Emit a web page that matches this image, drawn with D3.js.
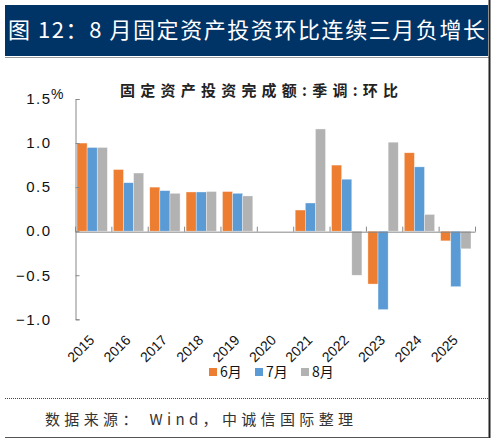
<!DOCTYPE html>
<html>
<head>
<meta charset="utf-8">
<style>
	body { margin: 0; background: #fff; }
	svg { display: block; }
	text { font-family: "Liberation Sans", Arial, "Noto Sans CJK SC", sans-serif; }
	.cjk { font-family: "Noto Sans CJK SC", sans-serif; }
</style>
<script src="https://d3js.org/d3.v7.min.js"></script>
</head>
<body>
<div id="chart"></div>
<script>
	// data
	var years = ["2015","2016","2017","2018","2019","2020","2021","2022","2023","2024","2025"];
	var seriesNames = ["6月","7月","8月"];
	var jun = [1.00, 0.70, 0.50, 0.445, 0.45, null, 0.24, 0.75, -0.60, 0.89, -0.11];
	var jul = [0.95, 0.55, 0.46, 0.445, 0.43, null, 0.32, 0.59, -0.89, 0.73, -0.63];
	var aug = [0.95, 0.66, 0.43, 0.45, 0.40, null, 1.16, -0.50, 1.01, 0.19, -0.20];
	var yTicks = [-1.0, -0.5, 0.0, 0.5, 1.0, 1.5];
	var colors = ["#ED7D31", "#5B9BD5", "#B2B2B2"];

	var W = 496, H = 444;
	var svg = d3.select("#chart").append("svg")
		.attr("width", W)
		.attr("height", H);

	// banner
	svg.append("rect")
		.attr("x", 5).attr("y", 5)
		.attr("width", 483).attr("height", 51)
		.attr("fill", "#003366");
	svg.append("text")
		.attr("class", "cjk")
		.attr("x", 8).attr("y", 38)
		.attr("font-size", 22)
		.attr("fill", "#fff")
		.attr("textLength", 477)
		.attr("lengthAdjust", "spacing")
		.text("图 12：8 月固定资产投资环比连续三月负增长");

	// frame lines
	svg.append("line").attr("x1", 5).attr("x2", 489).attr("y1", 57.5).attr("y2", 57.5)
		.attr("stroke", "#999").attr("stroke-width", 1);
	svg.append("line").attr("x1", 489.5).attr("x2", 489.5).attr("y1", 0).attr("y2", 438)
		.attr("stroke", "#222").attr("stroke-width", 2);
	svg.append("line").attr("x1", 5).attr("x2", 489).attr("y1", 437.5).attr("y2", 437.5)
		.attr("stroke", "#555").attr("stroke-width", 1);
	svg.append("line").attr("x1", 5).attr("x2", 489).attr("y1", 398.5).attr("y2", 398.5)
		.attr("stroke", "#444").attr("stroke-width", 1)
		.attr("stroke-dasharray", "1,1");

	// chart title
	svg.append("text")
		.attr("class", "cjk")
		.attr("x", 259).attr("y", 96)
		.attr("text-anchor", "middle")
		.attr("font-size", 15)
		.attr("font-weight", "bold")
		.attr("fill", "#222")
		.attr("textLength", 278)
		.attr("lengthAdjust", "spacing")
		.text("固定资产投资完成额:季调:环比");

	// scales
	var x0 = d3.scaleBand().domain(years).range([75, 475]).paddingInner(0).paddingOuter(0);
	var x1 = d3.scaleBand().domain(seriesNames).range([2, x0.bandwidth() - 4]).padding(0);
	var y = d3.scaleLinear().domain([-1.0, 1.5]).range([319.3, 99]);

	var series = [jun, jul, aug];

	// bars
	series.forEach(function(vals, s) {
		svg.append("g").selectAll("rect")
			.data(vals.map(function(v, i) { return {year: years[i], v: v}; })
				.filter(function(d) { return d.v !== null; }))
			.enter()
			.append("rect")
			.attr("x", function(d) { return x0(d.year) + x1(seriesNames[s]); })
			.attr("y", function(d) { return y(Math.max(0, d.v)); })
			.attr("width", x1.bandwidth())
			.attr("height", function(d) { return Math.abs(y(d.v) - y(0)); })
			.attr("fill", colors[s])
			.attr("stroke", "#fff")
			.attr("stroke-opacity", 0.6)
			.attr("stroke-width", 0.6);
	});

	// y axis
	var yAxis = d3.axisLeft(y).tickValues(yTicks).tickSize(-4).tickPadding(24)
		.tickFormat(d3.format(".1f"));
	var gy = svg.append("g").attr("transform", "translate(75.5,0)").call(yAxis);
	gy.select(".domain").attr("stroke", "#888");
	gy.selectAll(".tick line").attr("stroke", "#888");
	gy.selectAll(".tick text")
		.attr("font-size", 15)
		.attr("fill", "#111")
		.attr("letter-spacing", 1.5)
		.text(function(d) { return d3.format(".1f")(d).replace("-", "\u2212"); });

	// unit next to the top tick
	svg.append("text")
		.attr("x", 51).attr("y", 99)
		.attr("font-size", 14)
		.attr("fill", "#111")
		.text("%");

	// x axis on zero line
	var xAxis = d3.axisBottom(x0).tickSize(0).tickFormat("");
	var gx = svg.append("g").attr("transform", "translate(0," + (y(0) + 0.5) + ")").call(xAxis);
	gx.select(".domain").attr("stroke", "#888");
	gx.selectAll(".tick").remove();
	gx.selectAll(".cat-tick")
		.data(d3.range(years.length + 1))
		.enter()
		.append("line")
		.attr("x1", function(i) { return 75.5 + i * x0.step(); })
		.attr("x2", function(i) { return 75.5 + i * x0.step(); })
		.attr("y1", 0).attr("y2", -5)
		.attr("stroke", "#888");

	// rotated year labels
	svg.append("g").selectAll("text")
		.data(years)
		.enter()
		.append("text")
		.attr("transform", function(d) {
			return "translate(" + (x0(d) + x0.bandwidth() / 2 + 2) + ",341) rotate(-45)";
		})
		.attr("text-anchor", "end")
		.attr("font-size", 14)
		.attr("fill", "#111")
		.text(function(d) { return d; });

	// legend
	var legX = [209, 255, 301];
	var leg = svg.append("g").selectAll("g")
		.data(seriesNames)
		.enter()
		.append("g")
		.attr("transform", function(d, i) { return "translate(" + legX[i] + ",368)"; });
	leg.append("rect")
		.attr("width", 8).attr("height", 8)
		.attr("fill", function(d, i) { return colors[i]; });
	leg.append("text")
		.attr("class", "cjk")
		.attr("x", 11).attr("y", 9)
		.attr("font-size", 14)
		.attr("fill", "#111")
		.text(function(d) { return d; });

	// source
	svg.append("text")
		.attr("class", "cjk")
		.attr("x", 45).attr("y", 425)
		.attr("font-size", 15)
		.attr("fill", "#333")
		.attr("textLength", 308)
		.attr("lengthAdjust", "spacing")
		.text("数据来源： Wind，中诚信国际整理");
</script>
</body>
</html>
